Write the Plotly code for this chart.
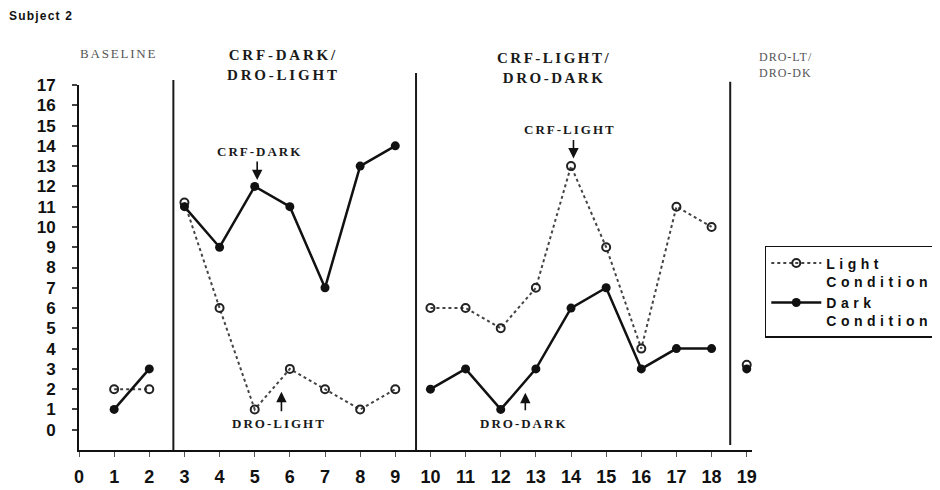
import plotly.graph_objects as go

# ---- data ----
sessions = list(range(1, 20))
light = [2, 2, 11.2, 6, 1, 3, 2, 1, 2, 6, 6, 5, 7, 13, 9, 4, 11, 10, 3.2]
dark = [1, 3, 11, 9, 12, 11, 7, 13, 14, 2, 3, 1, 3, 6, 7, 3, 4, 4, 3]
phase_ends = [2, 9, 18]          # last session in each connected phase
phase_lines = [2.685, 9.59, 18.53]
x_ticks = list(range(0, 20))
y_ticks = list(range(0, 18))


def with_gaps(xs, ys, breaks):
    ox, oy = [], []
    for x, y in zip(xs, ys):
        ox.append(x)
        oy.append(y)
        if x in breaks:
            ox.append(None)
            oy.append(None)
    return ox, oy


def spaced(t, px):
    return '<span style="letter-spacing:%spx">%s</span>' % (px, t)


lx, ly = with_gaps(sessions, light, phase_ends)
dx, dy = with_gaps(sessions, dark, phase_ends)

fig = go.Figure()
fig.add_trace(go.Scatter(
    x=lx, y=ly, mode="lines+markers",
    name=spaced("Light", 4.5) + "<br>" + spaced("Condition", 4.5),
    line=dict(color="#444444", width=2, dash="dot"),
    marker=dict(symbol="circle-open", size=8, color="#222222", line=dict(width=2)),
    connectgaps=False, cliponaxis=False,
))
fig.add_trace(go.Scatter(
    x=dx, y=dy, mode="lines+markers",
    name=spaced("Dark", 4.5) + "<br>" + spaced("Condition", 4.5),
    line=dict(color="#111111", width=2.5),
    marker=dict(symbol="circle", size=9, color="#111111"),
    connectgaps=False, cliponaxis=False,
))

# phase-change lines
tops = [1.014, 1.033, 1.009]
bots = [0, 0, 0.014]
for xv, t, b in zip(phase_lines, tops, bots):
    fig.add_shape(type="line", xref="x", yref="paper", x0=xv, x1=xv, y0=b, y1=t,
                  line=dict(color="#1a1a1a", width=2))

serif = "Liberation Serif, Times New Roman, serif"
sans = "Liberation Sans, Arial, sans-serif"

ann = []
# headers
ann.append(dict(xref="paper", yref="paper", x=-0.107, y=1.19, xanchor="left", yanchor="middle",
                text="<b>" + spaced("Subject 2", 1.2) + "</b>", showarrow=False,
                font=dict(family=sans, size=12, color="#111111")))
ann.append(dict(xref="paper", yref="paper", x=0.0594, y=1.087, xanchor="center", yanchor="middle",
                text=spaced("BASELINE", 1.8), showarrow=False,
                font=dict(family=serif, size=13, color="#555555")))
ann.append(dict(xref="paper", yref="paper", x=0.304, y=1.055, xanchor="center", yanchor="middle",
                text="<b>" + spaced("CRF-DARK/", 2.8) + "<br>" + spaced("DRO-LIGHT", 2.8) + "</b>",
                showarrow=False, font=dict(family=serif, size=15, color="#1a1a1a")))
ann.append(dict(xref="paper", yref="paper", x=0.706, y=1.046, xanchor="center", yanchor="middle",
                text="<b>" + spaced("CRF-LIGHT/", 2.5) + "<br>" + spaced("DRO-DARK", 2.5) + "</b>",
                showarrow=False, font=dict(family=serif, size=15, color="#1a1a1a")))
ann.append(dict(xref="paper", yref="paper", x=1.0074, y=1.055, xanchor="left", yanchor="middle",
                text=spaced("DRO-LT/", 1) + "<br>" + spaced("DRO-DK", 1), align="left",
                showarrow=False, font=dict(family=serif, size=12, color="#555555")))

# in-plot labels
labels = [("CRF-DARK", 5.14, 13.71), ("DRO-LIGHT", 5.68, 0.32),
          ("CRF-LIGHT", 13.98, 14.81), ("DRO-DARK", 12.67, 0.32)]
for t, xv, yv in labels:
    ann.append(dict(x=xv, y=yv, text="<b>" + spaced(t, 2) + "</b>", showarrow=False,
                    xanchor="center", yanchor="middle",
                    font=dict(family=serif, size=13, color="#1a1a1a")))
arrows = [(5.07, 12.31, -20), (5.76, 1.87, 21), (14.07, 13.38, -20), (12.70, 1.82, 19)]
for xv, yv, ayv in arrows:
    ann.append(dict(x=xv, y=yv, ax=0, ay=ayv, text="", showarrow=True, arrowhead=2,
                    arrowsize=1.3, arrowwidth=1.6, arrowcolor="#111111"))

fig.update_layout(
    width=932, height=482,
    margin=dict(l=71, r=188, t=77, b=40, autoexpand=False),
    paper_bgcolor="white", plot_bgcolor="white",
    annotations=ann,
    showlegend=True,
    legend=dict(x=1.019, y=0.559, xanchor="left", yanchor="top",
                bordercolor="#111111", borderwidth=1.5, bgcolor="white",
                font=dict(family=sans, size=14, color="#111111", weight="bold"),
                valign="top", itemwidth=50, tracegroupgap=0),
    xaxis=dict(range=[0, 19.15], tickvals=x_ticks, ticktext=[str(v) for v in x_ticks],
               showline=True, linecolor="#111111", linewidth=2, automargin=False,
               ticks="outside", ticklen=5, tickwidth=1, tickcolor="#555555",
               showgrid=False, zeroline=False, ticklabelstandoff=4,
               tickfont=dict(family=sans, size=18, color="#111111", weight="bold")),
    yaxis=dict(range=[-1, 17], tickvals=y_ticks, ticktext=[str(v) for v in y_ticks],
               showline=True, linecolor="#111111", linewidth=2, automargin=False,
               ticks="outside", ticklen=5, tickwidth=1.5, tickcolor="#444444",
               showgrid=False, zeroline=False, ticklabelstandoff=13,
               tickfont=dict(family=sans, size=17, color="#111111", weight="bold")),
)

fig.write_html("out.html")
